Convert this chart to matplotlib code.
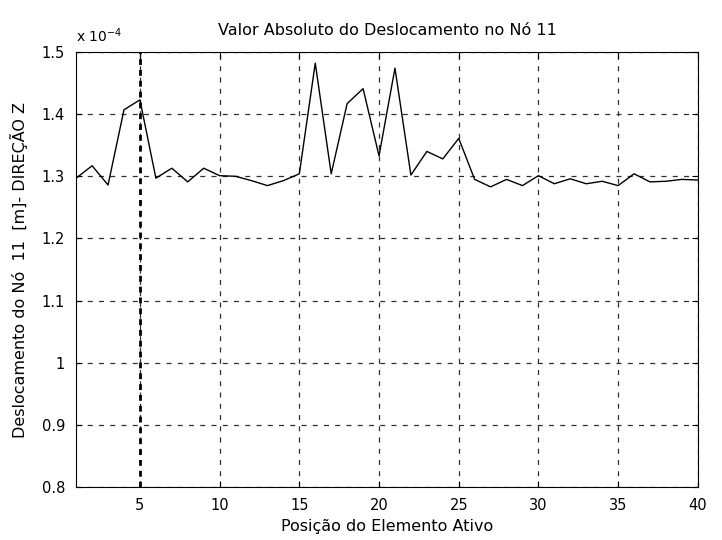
import matplotlib
matplotlib.use("Agg")
import matplotlib.pyplot as plt
from matplotlib.ticker import FuncFormatter

# posicao do elemento ativo (1..40)
posicao = list(range(1, 41))

# deslocamento no no 11, em unidades de 1e-4 m
deslocamento = [1.297, 1.317, 1.286, 1.407, 1.423, 1.297, 1.313, 1.291, 1.313, 1.301,
                1.300, 1.293, 1.285, 1.293, 1.304, 1.482, 1.304, 1.417, 1.441, 1.333,
                1.474, 1.302, 1.340, 1.328, 1.361, 1.295, 1.283, 1.295, 1.285, 1.301,
                1.288, 1.296, 1.288, 1.292, 1.285, 1.304, 1.291, 1.292, 1.295, 1.294]

xticks = [5, 10, 15, 20, 25, 30, 35, 40]
yticks = [0.8, 0.9, 1.0, 1.1, 1.2, 1.3, 1.4, 1.5]

plt.rcParams['font.family'] = ['DejaVu Sans']

fig = plt.figure(figsize=(7.22, 5.4), dpi=100)
ax = fig.add_axes([0.1055, 0.0981, 0.861, 0.8056])

ax.plot(posicao, deslocamento, color='black', linewidth=1.0)
ax.axvline(5, color='black', linewidth=2.0, linestyle=(0, (2.1, 1.8)))  # linha grossa em x=5

ax.set_xlim(1, 40)
ax.set_ylim(0.8, 1.5)
ax.set_xticks(xticks)
ax.set_yticks(yticks)
ax.yaxis.set_major_formatter(FuncFormatter(lambda v, p: '%g' % v))
ax.grid(True, color='#303030', linestyle=(0, (4, 5)), linewidth=0.9)
ax.tick_params(direction='in', top=True, right=True, labelsize=10.5, length=4, pad=8)
for s in ax.spines.values():
    s.set_linewidth(0.8)

ax.set_title('Valor Absoluto do Deslocamento no Nó 11', fontsize=11.5, pad=12)
ax.set_xlabel('Posição do Elemento Ativo', fontsize=11.5, labelpad=4)
ax.set_ylabel('Deslocamento do Nó  11  [m]- DIREÇÃO Z', fontsize=11.5)
ax.yaxis.set_label_coords(-0.078, 0.5)
ax.text(0.0, 1.015, r'x 10$^{-4}$', transform=ax.transAxes, fontsize=10, va='bottom')

fig.savefig('out.png', dpi=100)
